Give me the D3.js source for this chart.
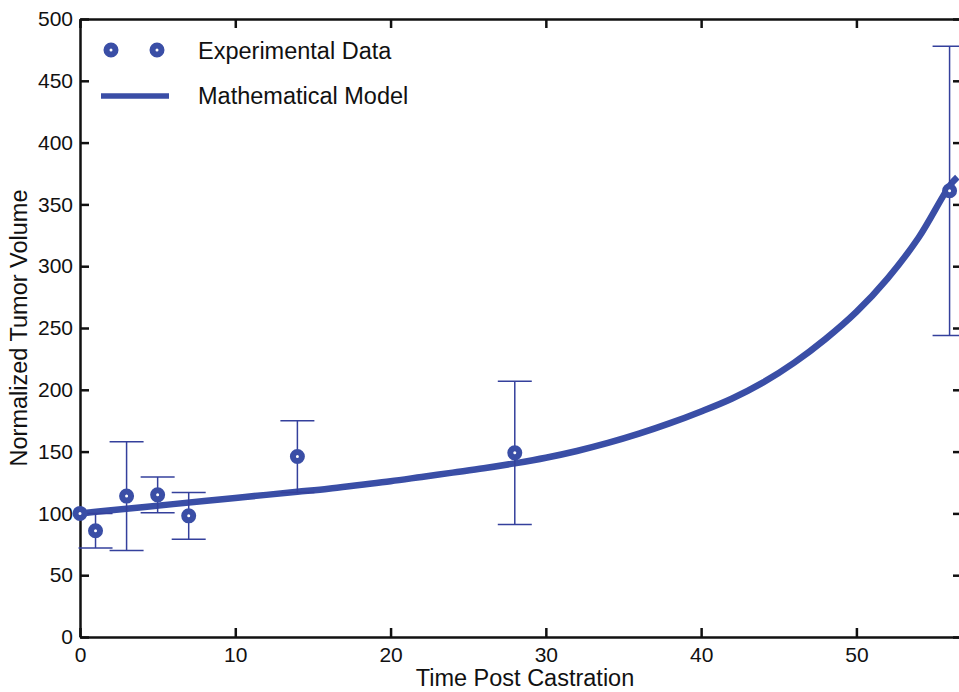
<!DOCTYPE html>
<html>
  <head>
    <meta charset="utf-8">
    <title>Tumor volume post castration</title>
    <script src="https://cdn.jsdelivr.net/npm/d3@7"></script>
    <style>
      body { margin: 0; background: #fff; }
      svg { display: block; font-family: "Liberation Sans", Arial, sans-serif; }
      .tick text { font-size: 21px; fill: #111; }
      .axisTitle { font-size: 23.5px; fill: #111; }
      .legendText { font-size: 23.5px; fill: #111; }
    </style>
  </head>
  <body>
    <svg id="chart" width="959" height="692"></svg>

    <script>
      // experimental data: days, mean, error half-width
      var days = [0, 1, 3, 5, 7, 14, 28, 56];
      var volume = [100, 86, 114, 115, 98, 146, 149, 361];
      var errors = [0, 14, 44, 14.5, 19, 29, 58, 117];

      // model curve
      var modelDays = [0, 2, 4, 6, 8, 10, 12, 14, 16, 18, 20, 22, 24, 26, 28, 30, 32, 34, 36, 38, 40, 42, 44, 46, 48, 50, 52, 54, 56, 56.5];
      var modelVolume = [100, 102.5, 105, 107.5, 110, 112.5, 115, 117.5, 120, 123, 126, 129.5, 133, 136.5, 140.5, 145, 150.5, 157, 164.5, 173, 182.5, 193, 206, 222, 241, 263, 290, 323, 365, 372];

      var xTicks = [0, 10, 20, 30, 40, 50];
      var yTicks = [0, 50, 100, 150, 200, 250, 300, 350, 400, 450, 500];

      var blue = "#3a4ea6";
      var barBlue = "#34409c";

      var chart = d3.select("#chart");
      var margin = { top: 19, right: -3, bottom: 55, left: 80 };
      var width = 959, height = 692;

      var x = d3.scaleLinear()
        .domain([0, 56.8])
        .range([margin.left, width - margin.right]);
      var y = d3.scaleLinear()
        .domain([0, 500])
        .range([height - margin.bottom, margin.top]);

      var points = days.map((d, i) => ({ t: d, v: volume[i], e: errors[i] }));
      var model = modelDays.map((d, i) => ({ t: d, v: modelVolume[i] }));

      // axes, ticks pointing inward
      var axes = chart.append("g");
      axes.append("g")
        .attr("transform", "translate(0," + y(0) + ")")
        .call(d3.axisBottom(x).tickValues(xTicks).tickSizeInner(-9).tickSizeOuter(0).tickPadding(10));
      axes.append("g")
        .attr("transform", "translate(" + x(0) + ",0)")
        .call(d3.axisLeft(y).tickValues(yTicks).tickSizeInner(-9).tickSizeOuter(0).tickPadding(7));
      axes.append("g")
        .attr("transform", "translate(0," + y(500) + ")")
        .call(d3.axisTop(x).tickValues(xTicks).tickSizeInner(-9).tickSizeOuter(0).tickFormat(""));
      axes.append("g")
        .attr("transform", "translate(" + x.range()[1] + ",0)")
        .call(d3.axisRight(y).tickValues(yTicks).tickSizeInner(-9).tickSizeOuter(0).tickFormat(""));
      axes.selectAll(".domain").attr("stroke", "#111").attr("stroke-width", 2.5);
      axes.selectAll(".tick line").attr("stroke", "#111").attr("stroke-width", 2.5);

      // axis titles
      chart.append("text")
        .attr("class", "axisTitle")
        .attr("x", (x.range()[0] + x.range()[1]) / 2 + 4)
        .attr("y", 686)
        .attr("text-anchor", "middle")
        .text("Time Post Castration");
      chart.append("text")
        .attr("class", "axisTitle")
        .attr("transform", "translate(27," + ((y(0) + y(500)) / 2) + ") rotate(-90)")
        .attr("text-anchor", "middle")
        .text("Normalized Tumor Volume");

      // model line
      var line = d3.line()
        .x(d => x(d.t))
        .y(d => y(d.v))
        .curve(d3.curveCatmullRom);
      chart.append("path")
        .attr("d", line(model))
        .attr("fill", "none")
        .attr("stroke", blue)
        .attr("stroke-width", 6.5);

      // error bars
      var bars = chart.append("g")
        .attr("stroke", barBlue)
        .attr("stroke-width", 1.5)
        .selectAll("g")
        .data(points.filter(d => d.e > 0))
        .join("g");
      bars.append("line")
        .attr("x1", d => x(d.t)).attr("x2", d => x(d.t))
        .attr("y1", d => y(d.v - d.e)).attr("y2", d => y(d.v + d.e));
      bars.append("line")
        .attr("x1", d => x(d.t) - 17).attr("x2", d => x(d.t) + 17)
        .attr("y1", d => y(d.v - d.e)).attr("y2", d => y(d.v - d.e));
      bars.append("line")
        .attr("x1", d => x(d.t) - 17).attr("x2", d => x(d.t) + 17)
        .attr("y1", d => y(d.v + d.e)).attr("y2", d => y(d.v + d.e));

      // markers
      chart.append("g")
        .selectAll("circle")
        .data(points)
        .join("circle")
        .attr("cx", d => x(d.t))
        .attr("cy", d => y(d.v))
        .attr("r", 4.5)
        .attr("fill", "#fff")
        .attr("stroke", blue)
        .attr("stroke-width", 6);

      // legend
      var legend = chart.append("g");
      legend.selectAll("circle")
        .data([111, 157])
        .join("circle")
        .attr("cx", d => d)
        .attr("cy", 50)
        .attr("r", 4.5)
        .attr("fill", "#fff")
        .attr("stroke", blue)
        .attr("stroke-width", 6);
      legend.append("text")
        .attr("class", "legendText")
        .attr("x", 198).attr("y", 59)
        .text("Experimental Data");
      legend.append("line")
        .attr("x1", 101).attr("x2", 169)
        .attr("y1", 96).attr("y2", 96)
        .attr("stroke", blue)
        .attr("stroke-width", 5.5);
      legend.append("text")
        .attr("class", "legendText")
        .attr("x", 198).attr("y", 104)
        .text("Mathematical Model");
    </script>
  </body>
</html>
